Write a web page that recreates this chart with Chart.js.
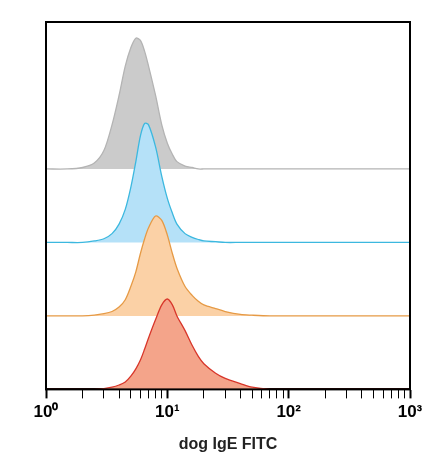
<!DOCTYPE html>
<html><head><meta charset="utf-8">
<script src="https://cdn.jsdelivr.net/npm/chart.js@4"></script>
<style>body{margin:0;background:#fff}#wrap{width:444px;height:472px}</style>
</head><body><div id="wrap"><canvas id="c"></canvas></div>
<script>
// fluorescence bins (log scale) and histogram heights per sample, above each stacked baseline
const bins = [1,1.5,2,2.5,3,3.5,4,4.5,5,5.5,6,6.5,7,8,9,10,11,12,14,16,18,20,25,30,40,50,70,100,200,1000];
const grey   = [0,0,.02,.08,.25,.6,1.0,1.4,1.65,1.78,1.75,1.6,1.4,1.0,.6,.35,.2,.1,.04,.02,0,0,0,0,0,0,0,0,0,0];
const blue   = [0,0,0,.02,.05,.12,.25,.45,.75,1.1,1.45,1.62,1.6,1.3,.9,.6,.4,.25,.12,.07,.04,.02,.01,0,0,0,0,0,0,0];
const orange = [0,0,0,.01,.03,.06,.12,.22,.4,.6,.85,1.05,1.2,1.36,1.3,1.1,.85,.65,.4,.28,.2,.15,.1,.06,.02,.01,0,0,0,0];
const red    = [0,0,0,0,.01,.03,.06,.1,.18,.28,.4,.55,.7,.95,1.15,1.23,1.15,1.0,.8,.6,.45,.35,.22,.15,.08,.03,0,0,0,0];
const offsets = [3, 2, 1, 0];
const tickLabels = {1:'10\u2070',10:'10\u00b9',100:'10\u00b2',1000:'10\u00b3'};

function series(h, base, line, fill, order) {
  return {
    data: bins.map((x, i) => ({x: x, y: base + h[i]})),
    borderColor: line, backgroundColor: fill, borderWidth: 1.3,
    fill: {value: base}, pointRadius: 0, tension: 0.3, order: order
  };
}

const frame = {
  id: 'frame',
  afterDraw(chart) {
    const a = chart.chartArea, ctx = chart.ctx;
    ctx.save(); ctx.strokeStyle = '#000'; ctx.lineWidth = 2;
    ctx.strokeRect(a.left, a.top, a.right - a.left, a.bottom - a.top);
    ctx.restore();
  }
};

new Chart(document.getElementById('c'), {
  type: 'line',
  data: { datasets: [
    series(grey, offsets[0], '#b4b4b4', '#cbcbcb', 4),
    series(blue, offsets[1], '#3cb8df', '#b5e1f8', 3),
    series(orange, offsets[2], '#e69a45', '#fbd1a6', 2),
    series(red, offsets[3], '#d8362a', '#f4a48a', 1)
  ]},
  options: {
    responsive: true, maintainAspectRatio: false, animation: false,
    layout: {padding: {top: 22, right: 34, left: 38, bottom: 14}},
    plugins: {legend: {display: false}, tooltip: {enabled: false}},
    scales: {
      x: {
        type: 'logarithmic', min: 1, max: 1000,
        afterBuildTicks(axis) {
          const t = [];
          [1, 10, 100].forEach(d => { for (let k = 1; k < 10; k++) t.push({value: d * k}); });
          t.push({value: 1000});
          axis.ticks = t;
        },
        ticks: {
          autoSkip: false, maxRotation: 0, color: '#000', padding: 4,
          font: {family: 'Liberation Sans', size: 17, weight: 'bold'},
          callback: v => tickLabels[v] || ''
        },
        grid: {
          drawOnChartArea: false, tickLength: 9, tickColor: '#000',
          tickWidth: c => (tickLabels[c.tick && c.tick.value] ? 2 : 1)
        },
        border: {color: '#000', width: 2},
        title: {display: true, text: 'dog IgE FITC', color: '#222', padding: {top: 8},
          font: {family: 'Liberation Sans', size: 16, weight: 'bold'}}
      },
      y: {
        min: 0, max: 5,
        ticks: {display: false},
        grid: {display: false},
        border: {color: '#000', width: 2}
      }
    }
  },
  plugins: [frame]
});
</script></body></html>
